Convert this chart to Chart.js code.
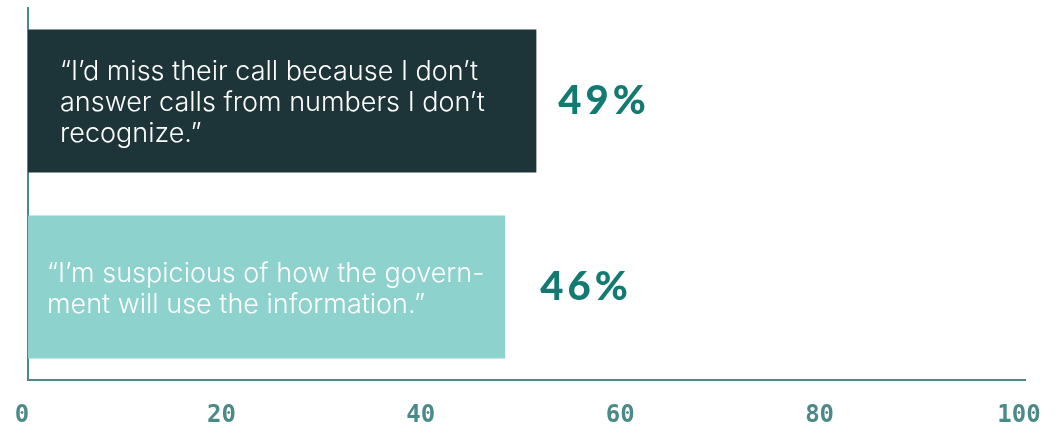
<!DOCTYPE html>
<html>
<head>
<meta charset="utf-8">
<script src="https://cdn.jsdelivr.net/npm/chart.js@4"></script>
<style>
  html, body { margin: 0; padding: 0; background: #fff; }
  #wrap { width: 1057px; height: 428px; }
</style>
</head>
<body>
<div id="wrap"><canvas id="reasonsChart"></canvas></div>
<script>
// Survey responses, one line-broken quote per bar
var reasons = [
    ['\u201cI\u2019d miss their call because I don\u2019t', 'answer calls from numbers I don\u2019t', 'recognize.\u201d'],
    ['\u201cI\u2019m suspicious of how the govern-', 'ment will use the information.\u201d']
];
var shares = [49, 46];
var barColors = ['#1d3539', '#8dd2cc'];
var axisTicks = [0, 20, 40, 60, 80, 100];

var axisColor = '#4b8a88';

// Quote text inside each bar and the percentage after it
var barText = {
    id: 'barText',
    afterDatasetsDraw: function (chart) {
        var ctx = chart.ctx;
        var bars = chart.getDatasetMeta(0).data;
        var insets = [32, 19];
        var gaps = [22, 35];
        bars.forEach(function (bar, i) {
            var lines = reasons[i];
            var lh = 31;
            ctx.save();
            ctx.fillStyle = '#ffffff';
            ctx.font = '300 27px Inter, "Noto Sans", sans-serif';
            ctx.textAlign = 'left';
            ctx.textBaseline = 'alphabetic';
            lines.forEach(function (line, j) {
                var y = bar.y + (j - (lines.length - 1) / 2) * lh + 10;
                ctx.fillText(line, bar.base + insets[i], y);
            });
            ctx.fillStyle = '#137a72';
            ctx.font = '900 40px Lato, "Noto Sans", sans-serif';
            ctx.letterSpacing = '4px';
            ctx.fillText(shares[i] + '%', bar.x + gaps[i], bar.y + 13);
            ctx.restore();
        });
    }
};

var ctx = document.getElementById('reasonsChart').getContext('2d');
new Chart(ctx, {
    type: 'bar',
    data: {
        labels: reasons,
        datasets: [{
            data: shares,
            backgroundColor: barColors,
            borderWidth: 0,
            categoryPercentage: 1,
            barPercentage: 0.77,
            xAxisID: 'x'
        }]
    },
    options: {
        indexAxis: 'y',
        responsive: true,
        maintainAspectRatio: false,
        animation: false,
        layout: { padding: { left: 28, top: 8, right: 32, bottom: -24 } },
        plugins: {
            legend: { display: false },
            tooltip: { enabled: false }
        },
        scales: {
            // bar lengths
            x: {
                display: false,
                min: 0,
                max: 96.1
            },
            // printed percentage axis
            xTicks: {
                type: 'linear',
                position: 'bottom',
                min: 0,
                max: 100,
                afterBuildTicks: function (axis) {
                    axis.ticks = axisTicks.map(function (v) { return { value: v }; });
                },
                // end labels may hang past the plot edges
                afterFit: function (axis) {
                    axis.paddingLeft = 0;
                    axis.paddingRight = 0;
                },
                grid: { display: false, drawTicks: false },
                border: { display: true, color: axisColor, width: 2 },
                ticks: {
                    color: axisColor,
                    font: { family: '"DejaVu Sans Mono", monospace', weight: 'bold', size: 24, lineHeight: 1 },
                    padding: 24,
                    labelOffset: -6,
                    maxRotation: 0
                }
            },
            y: {
                grid: { display: false, drawTicks: false },
                border: { display: true, color: axisColor, width: 2 },
                ticks: { display: false }
            }
        }
    },
    plugins: [barText]
});
</script>
</body>
</html>
